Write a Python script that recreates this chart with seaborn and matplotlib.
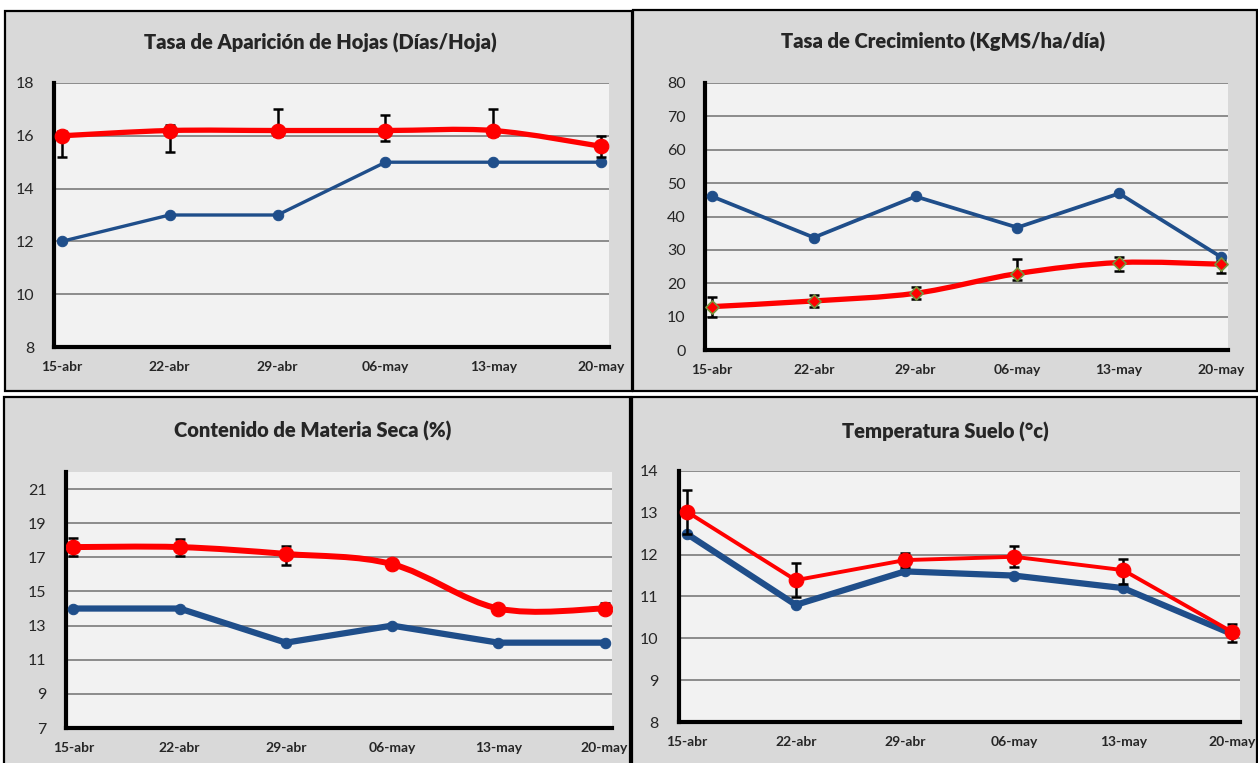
import numpy as np
import seaborn as sns
import matplotlib.pyplot as plt
from matplotlib.patches import Rectangle, PathPatch
from matplotlib.path import Path

# categories (weekly dates)
fechas = ['15-abr', '22-abr', '29-abr', '06-may', '13-may', '20-may']

# Tasa de Aparicion de Hojas
hojas_azul = [12, 13, 13, 15, 15, 15]
hojas_rojo = [16.0, 16.2, 16.2, 16.2, 16.2, 15.6]
hojas_err_lo = [15.2, 15.4, 16.0, 15.8, 16.0, 15.2]
hojas_err_hi = [16.2, 16.4, 17.0, 16.8, 17.0, 16.0]

# Tasa de Crecimiento
crec_azul = [46, 33.7, 46, 36.7, 46.9, 27.9]
crec_rojo = [13.0, 14.7, 17.0, 22.9, 26.2, 25.7]
crec_err_lo = [9.8, 13.0, 15.4, 21.0, 23.7, 23.2]
crec_err_hi = [16.0, 16.4, 18.8, 27.3, 27.9, 26.7]

# Contenido de Materia Seca
ms_azul = [14, 14, 12, 13, 12, 12]
ms_rojo = [17.6, 17.6, 17.2, 16.6, 14.0, 14.0]
ms_err_lo = [17.1, 17.05, 16.55, 16.35, 13.8, 13.75]
ms_err_hi = [18.15, 18.1, 17.65, 16.85, 14.2, 14.3]

# Temperatura Suelo
temp_azul = [12.5, 10.8, 11.6, 11.5, 11.2, 10.1]
temp_rojo = [13.03, 11.39, 11.87, 11.95, 11.63, 10.15]
temp_err_lo = [12.5, 10.98, 11.7, 11.7, 11.3, 9.92]
temp_err_hi = [13.55, 11.79, 12.03, 12.2, 11.9, 10.34]

AZUL = '#1f4e8a'
ROJO = '#ff0000'
W, H = 1258, 763

sns.set_style('white')
plt.rcParams['font.family'] = ['Lato', 'DejaVu Sans']

fig = plt.figure(figsize=(W / 100, H / 100), dpi=100)


def frect(x0, y0, x1, y1):
    return [x0 / W, 1 - y1 / H, (x1 - x0) / W, (y1 - y0) / H]


def smooth_path(xs, ys):
    # Excel-like smoothed line (bezier through the points)
    pts = np.column_stack([xs, ys]).astype(float)
    n = len(pts)
    verts = [pts[0]]
    codes = [Path.MOVETO]
    for i in range(n - 1):
        p0 = pts[max(i - 1, 0)]
        p1 = pts[i]
        p2 = pts[i + 1]
        p3 = pts[min(i + 2, n - 1)]
        verts += [p1 + (p2 - p0) / 6, p2 - (p3 - p1) / 6, p2]
        codes += [Path.CURVE4] * 3
    return Path(verts, codes)


def panel(box, plot_box, title, title_xy, azul, rojo, err_lo, err_hi,
          ylim, yticks, lw_azul, lw_rojo, smooth=True, diamond=False,
          ticks=False):
    fig.add_artist(Rectangle((box[0] / W, 1 - box[3] / H),
                             (box[2] - box[0]) / W, (box[3] - box[1]) / H,
                             transform=fig.transFigure, facecolor='#d9d9d9',
                             edgecolor='black', linewidth=1.6, zorder=-5))
    fig.text(title_xy[0] / W, 1 - title_xy[1] / H, title,
             ha='center', va='center', fontsize=14.5, fontweight='heavy')
    ax = fig.add_axes(frect(*plot_box))
    ax.set_facecolor('#f2f2f2')
    x = np.arange(len(fechas))

    sns.lineplot(x=x, y=azul, ax=ax, color=AZUL, lw=lw_azul, marker='o',
                 markersize=7.5, markeredgecolor=AZUL, zorder=3)
    if smooth:
        ax.add_patch(PathPatch(smooth_path(x, rojo), facecolor='none',
                               edgecolor=ROJO, lw=lw_rojo, zorder=4,
                               capstyle='round'))
    else:
        sns.lineplot(x=x, y=rojo, ax=ax, color=ROJO, lw=lw_rojo, zorder=4)

    lo = np.array(rojo) - np.array(err_lo)
    hi = np.array(err_hi) - np.array(rojo)
    ax.errorbar(x, rojo, yerr=[lo, hi], fmt='none', ecolor='black',
                elinewidth=1.8, capsize=3.5, capthick=1.8, zorder=5)
    if diamond:
        sns.scatterplot(x=x, y=rojo, ax=ax, marker='D', s=45, color=ROJO,
                        edgecolor='#77933c', linewidth=1.2, zorder=6)
    else:
        sns.scatterplot(x=x, y=rojo, ax=ax, marker='o', s=110, color=ROJO,
                        edgecolor=ROJO, zorder=6)

    ax.set_xlim(-0.07, len(fechas) - 1 + 0.07)
    ax.set_ylim(*ylim)
    ax.set_xticks(x)
    ax.set_xticklabels(fechas, fontsize=10, fontweight='bold')
    ax.set_yticks(yticks)
    ax.set_yticklabels([str(v) for v in yticks], fontsize=11.5)
    ax.grid(axis='y', color='#8c8c8c', lw=1.4)
    ax.set_axisbelow(True)
    for s in ['top', 'right']:
        ax.spines[s].set_visible(False)
    for s in ['left', 'bottom']:
        ax.spines[s].set_color('black')
        ax.spines[s].set_linewidth(3)
    if ticks:
        ax.tick_params(axis='x', length=0, pad=10)
        ax.set_xticks(x - 0.065, minor=True)
        ax.tick_params(axis='x', which='minor', length=5, width=1.5,
                       direction='out', color='black')
        ax.tick_params(axis='y', length=5, width=1.5, pad=10, color='black')
    else:
        ax.tick_params(axis='x', length=0, pad=10)
        ax.tick_params(axis='y', length=0, pad=14)
    return ax


panel((5, 11, 632, 391), (54, 83, 609, 347),
      'Tasa de Aparición de Hojas (Días/Hoja)', (320, 43),
      hojas_azul, hojas_rojo, hojas_err_lo, hojas_err_hi,
      (8, 18), list(range(8, 19, 2)), 2.4, 3.8)

panel((633, 10, 1257, 391), (705, 83, 1228, 350),
      'Tasa de Crecimiento (KgMS/ha/día)', (943, 42),
      crec_azul, crec_rojo, crec_err_lo, crec_err_hi,
      (0, 80), list(range(0, 81, 10)), 2.7, 3.8, diamond=True)

panel((4, 397, 630, 766), (66, 472, 612, 728),
      'Contenido de Materia Seca (%)', (313, 431),
      ms_azul, ms_rojo, ms_err_lo, ms_err_hi,
      (7, 22), list(range(7, 22, 2)), 4.5, 4.3)

panel((632, 397, 1257, 766), (679, 471, 1240, 722),
      'Temperatura Suelo (°c)', (945, 432),
      temp_azul, temp_rojo, temp_err_lo, temp_err_hi,
      (8, 14), list(range(8, 15)), 4.5, 2.8, smooth=False, ticks=True)

fig.savefig('out.png', dpi=100, facecolor='white')
